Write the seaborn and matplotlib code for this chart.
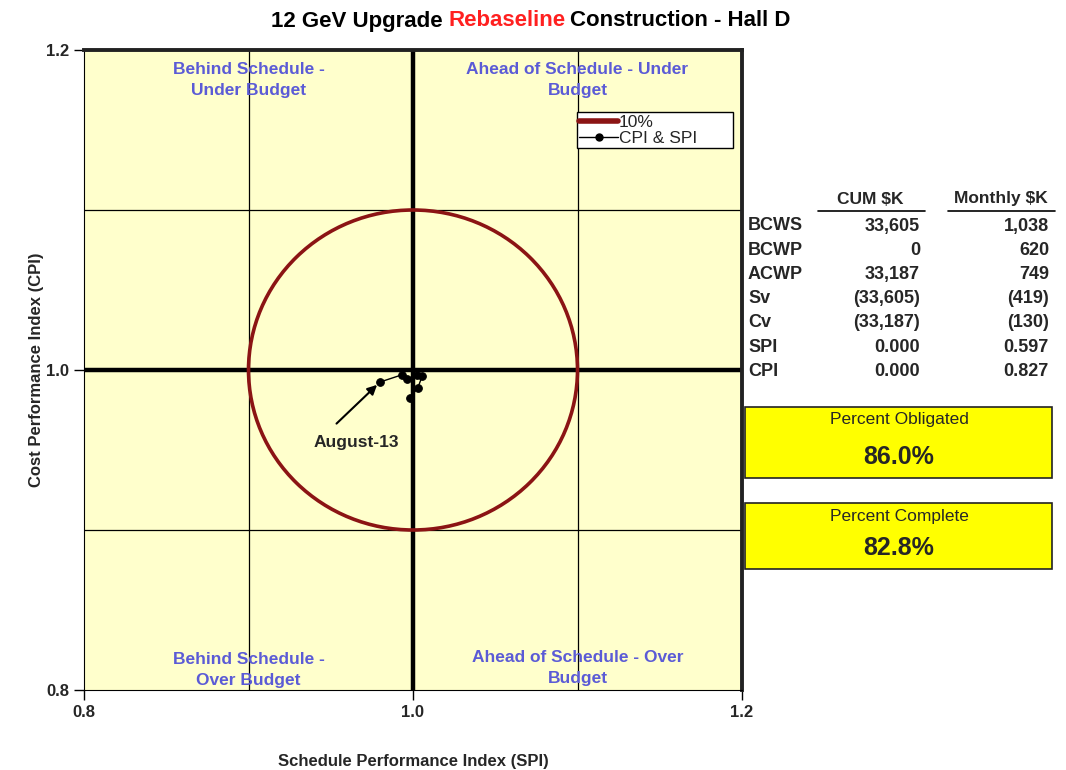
import matplotlib
matplotlib.use("Agg")
import matplotlib.pyplot as plt
import seaborn as sns
import pandas as pd
from matplotlib.patches import Circle, Rectangle
from matplotlib.lines import Line2D

# monthly SPI / CPI points (last one is August-13)
spi = [0.998, 1.003, 1.0055, 1.0024, 0.9964, 0.9933, 0.980]
cpi = [0.9825, 0.989, 0.996, 0.997, 0.9944, 0.997, 0.9925]
latest_label = "August-13"

row_names = ["BCWS", "BCWP", "ACWP", "Sv", "Cv", "SPI", "CPI"]
cum_vals = ["33,605", "0", "33,187", "(33,605)", "(33,187)", "0.000", "0.000"]
monthly_vals = ["1,038", "620", "749", "(419)", "(130)", "0.597", "0.827"]

pct_titles = ["Percent Obligated", "Percent Complete"]
pct_values = ["86.0%", "82.8%"]

quadrants = [
    ("Behind Schedule -\nUnder Budget", 0.9, 1.181),
    ("Ahead of Schedule - Under\nBudget", 1.1, 1.181),
    ("Behind Schedule -\nOver Budget", 0.9, 0.8125),
    ("Ahead of Schedule - Over\nBudget", 1.1, 0.814),
]

df = pd.DataFrame({"SPI": spi, "CPI": cpi})

sns.set_style("white")
plt.rcParams["font.family"] = ["Liberation Sans", "DejaVu Sans"]

W, H = 1066, 770
fig = plt.figure(figsize=(W / 100, H / 100), dpi=100)


def px(x, y):
    return x / W, 1 - y / H


ax = fig.add_axes([84 / W, 1 - 690 / H, (742 - 84) / W, (690 - 50) / H])
ax.set_facecolor("#FFFFCC")
ax.set_xlim(0.8, 1.2)
ax.set_ylim(0.8, 1.2)

# grid lines
for v in [0.9, 1.1]:
    ax.axvline(v, color="black", lw=0.9, zorder=1)
    ax.axhline(v, color="black", lw=0.9, zorder=1)
ax.axvline(1.0, color="black", lw=3.2, zorder=1)
ax.axhline(1.0, color="black", lw=3.2, zorder=1)

# 10% circle
ax.add_patch(Circle((1.0, 1.0), 0.1, fill=False, edgecolor="#8B1414", lw=2.6, zorder=2))

sns.lineplot(data=df, x="SPI", y="CPI", sort=False, color="black", lw=1,
             marker="o", markersize=5.5, markeredgecolor="black", ax=ax, zorder=3)

ax.annotate("", xy=(spi[-1], cpi[-1]), xytext=(0.9535, 0.9665),
            arrowprops=dict(arrowstyle="-|>", color="black", lw=1.5,
                            shrinkA=0, shrinkB=3, mutation_scale=14), zorder=4)
ax.text(0.9655, 0.9545, latest_label, ha="center", va="center", fontsize=12.5,
        fontweight="bold", zorder=4)

for txt, x, y in quadrants:
    ax.text(x, y, txt, ha="center", va="center", fontsize=12.5, fontweight="bold",
            color="#5B5BD6", linespacing=1.5, zorder=4)

ax.set_xticks([0.8, 1.0, 1.2])
ax.set_yticks([0.8, 1.0, 1.2])
ax.set_xticklabels(["0.8", "1.0", "1.2"], fontweight="bold", fontsize=12)
ax.set_yticklabels(["0.8", "1.0", "1.2"], fontweight="bold", fontsize=12)
ax.tick_params(direction="out", length=7, width=1, color="black", bottom=True, left=True)
ax.set_xlabel("Schedule Performance Index (SPI)", fontsize=12, fontweight="bold", labelpad=25)
ax.set_ylabel("Cost Performance Index (CPI)", fontsize=12, fontweight="bold", labelpad=2)

for side in ["top", "right"]:
    ax.spines[side].set_linewidth(2.8)
    ax.spines[side].set_color("#222222")
for side in ["left", "bottom"]:
    ax.spines[side].set_linewidth(0.8)
    ax.spines[side].set_color("black")

handles = [Line2D([], [], color="#8B1414", lw=4),
           Line2D([], [], color="black", lw=1, marker="o", markersize=5)]
leg = ax.legend(handles, ["10%", "CPI & SPI"], loc="upper left",
                bbox_to_anchor=(0.749, 0.903, 0.237, 0), mode="expand",
                borderaxespad=0, fontsize=12.5, frameon=True, fancybox=False, framealpha=1,
                handlelength=2.2, handletextpad=0.05, borderpad=0.15, labelspacing=0.05)
leg.get_frame().set_edgecolor("black")
leg.get_frame().set_linewidth(1)
leg.get_frame().set_facecolor("white")
leg.set_zorder(5)

# title in pieces so "Rebaseline" can be red
renderer = fig.canvas.get_renderer()
parts = [("12 GeV Upgrade", "black"), ("Rebaseline", "#FF2020"),
         ("Construction - Hall D", "black")]
widths = []
for s, c in parts:
    t = fig.text(0, 0, s, fontsize=16, fontweight="bold")
    widths.append(t.get_window_extent(renderer).width)
    t.remove()
gap = 5
x0 = 531 - (sum(widths) + gap * 2) / 2
for (s, c), w in zip(parts, widths):
    fig.text(x0 / W, 1 - 21 / H, s, fontsize=16, fontweight="bold", color=c,
             ha="left", va="center")
    x0 += w + gap

# table on right
hx, hy = px(870, 199)
fig.text(hx, hy, "CUM $K", ha="center", va="center", fontsize=12.5, fontweight="bold")
hx, hy = px(1001, 199)
fig.text(hx, hy, "Monthly $K", ha="center", va="center", fontsize=12.5, fontweight="bold")
for xa, xb in [(818, 925), (948, 1055)]:
    fig.add_artist(Line2D([xa / W, xb / W], [1 - 211 / H, 1 - 211 / H], color="black", lw=1.2))

for i, (name, cv, mv) in enumerate(zip(row_names, cum_vals, monthly_vals)):
    y = 226 + i * 24.2
    fig.text(748 / W, 1 - y / H, name, ha="left", va="center", fontsize=13, fontweight="bold")
    fig.text(920 / W, 1 - y / H, cv, ha="right", va="center", fontsize=13, fontweight="bold")
    fig.text(1049 / W, 1 - y / H, mv, ha="right", va="center", fontsize=13, fontweight="bold")

# percent boxes
for i, (ttl, val) in enumerate(zip(pct_titles, pct_values)):
    top = 407 + i * 96
    hgt = 71 if i == 0 else 66
    bx, by = px(745, top + hgt)
    fig.add_artist(Rectangle((bx, by), (1052 - 745) / W, hgt / H, transform=fig.transFigure,
                             facecolor="#FFFF00", edgecolor="#222222", lw=1.2))
    fig.text(899 / W, 1 - (top + 13) / H, ttl, ha="center", va="center", fontsize=12.5)
    fig.text(899 / W, 1 - (top + (50 if i == 0 else 45)) / H, val, ha="center", va="center",
             fontsize=18, fontweight="bold")

fig.savefig("out.png", dpi=100, facecolor="white")
